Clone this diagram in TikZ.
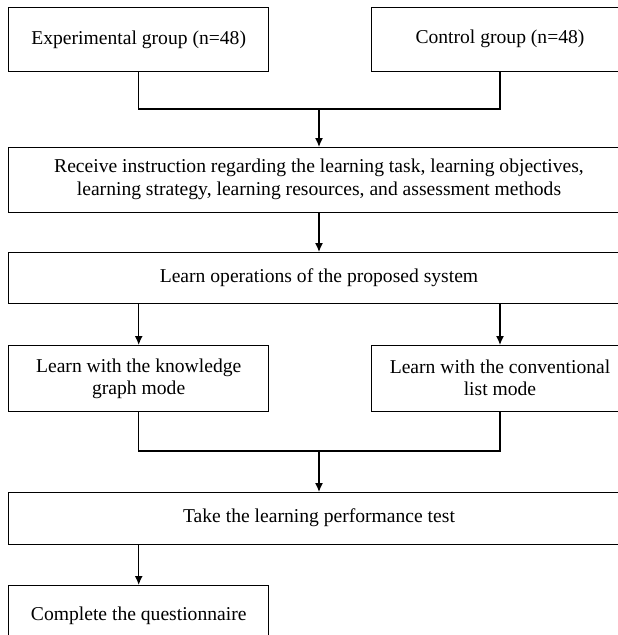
\documentclass[tikz,border=0pt]{standalone}
\usepackage{fontspec}
\setmainfont{Liberation Serif}
\usetikzlibrary{arrows.meta}
\tikzset{>={Latex[length=9pt,width=8pt]}}
\tikzset{
  frame/.style={draw, line width=1.4pt, inner sep=0pt, anchor=north west},
  txt/.style={align=center, inner sep=0pt, font=\fontsize{19.6}{22.5}\selectfont}
}

\begin{document}
\begin{tikzpicture}[x=1pt, y=-1pt, line width=1.4pt]
		\useasboundingbox (0,0) rectangle (618,635);
		\clip (0,0) rectangle (618,635);

		% Groups
		\node[frame, minimum width=260pt, minimum height=64pt] (expbox) at (8,7) {};
		\node[txt] (exptxt) at (expbox.center) {Experimental group (n=48)};
		\node[frame, minimum width=300pt, minimum height=64pt] (ctlbox) at (371,7) {};
		\node[txt] (ctltxt) at (500,39) {Control group (n=48)};

		% Instruction
		\node[frame, minimum width=660pt, minimum height=65pt] (instrbox) at (8,147) {};
		\node[txt] (instrtxt) at (319,179.5) {Receive instruction regarding the learning task, learning objectives,\\learning strategy, learning resources, and assessment methods};

		% Operations
		\node[frame, minimum width=660pt, minimum height=51pt] (opbox) at (8,252) {};
		\node[txt] (optxt) at (319,277.5) {Learn operations of the proposed system};

		% Learning modes
		\node[frame, minimum width=260pt, minimum height=66pt] (graphbox) at (8,345) {};
		\node[txt] (graphtxt) at (graphbox.center) {Learn with the knowledge\\graph mode};
		\node[frame, minimum width=300pt, minimum height=66pt] (listbox) at (371,345) {};
		\node[txt] (listtxt) at (500,378) {Learn with the conventional\\list mode};

		% Test
		\node[frame, minimum width=660pt, minimum height=52pt] (testbox) at (8,492) {};
		\node[txt] (testtxt) at (319,518) {Take the learning performance test};

		% Questionnaire
		\node[frame, minimum width=260pt, minimum height=60pt] (quesbox) at (8,585) {};
		\node[txt] (questxt) at (quesbox.center) {Complete the questionnaire};

		% Connectors
		\coordinate (join1) at (319,109);
		\coordinate (join2) at (319,451);
		\draw (expbox.south) |- (join1) -| (ctltxt |- ctlbox.south);
		\draw[->] (join1) -- (join1 |- instrbox.north);
		\draw[->] (instrtxt |- instrbox.south) -- (instrtxt |- opbox.north);
		\draw[->] (graphbox.north |- opbox.south) -- (graphbox.north);
		\draw[->] (listtxt |- opbox.south) -- (listtxt |- listbox.north);
		\draw (graphbox.south) |- (join2) -| (listtxt |- listbox.south);
		\draw[->] (join2) -- (join2 |- testbox.north);
		\draw[->] (quesbox.north |- testbox.south) -- (quesbox.north);
	\end{tikzpicture}
\end{document}
